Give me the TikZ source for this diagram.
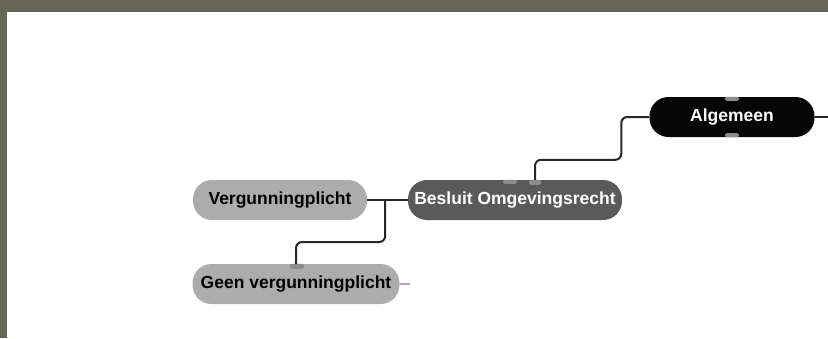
\documentclass[tikz,border=0pt]{standalone}
\usepackage{fontspec}
\setmainfont{Liberation Sans}
\usepackage{tikz}
\usetikzlibrary{positioning}
\definecolor{frame1}{RGB}{102,102,88}
\definecolor{black1}{RGB}{6,6,6}
\definecolor{dark1}{RGB}{90,90,90}
\definecolor{light1}{RGB}{172,172,172}
\definecolor{line1}{RGB}{38,38,38}
\definecolor{knob1}{RGB}{140,140,140}
\definecolor{lilac1}{RGB}{190,160,200}

\tikzset{
  topic/.style={rounded corners=19pt, minimum height=40pt, inner sep=0pt,
    font=\bfseries\fontsize{17.5}{20}\selectfont},
  rootbox/.style={topic, fill=black1, text=white},
  mainbox/.style={topic, fill=dark1, text=white},
  subbox/.style={topic, fill=light1, text=black},
  link/.style={draw=line1, line width=2pt, rounded corners=6pt},
  knob/.style={fill=knob1, rounded corners=2pt}
}

\begin{document}
\begin{tikzpicture}[x=1pt, y=-1pt]
  \useasboundingbox (0,0) rectangle (828,338);
  % frame
  \fill[frame1] (0,0) rectangle (828,338);
  \fill[white] (7,12) rectangle (828,338);

  % nodes
  \node[rootbox, minimum width=165pt] (algemeen) at (732,117) {Algemeen};
  \node[mainbox, minimum width=214pt] (besluit) at (515,200) {Besluit Omgevingsrecht};
  \node[subbox, minimum width=174pt] (verg) at (280,200) {Vergunningplicht};
  \node[subbox, minimum width=207pt] (geen) at (296,284) {Geen vergunningplicht};

  % knobs
  \fill[knob] ([xshift=-7pt]algemeen.north) rectangle ++(14pt,-4pt);
  \fill[knob] ([xshift=-7pt]algemeen.south) rectangle ++(14pt,4pt);
  \fill[knob] ([xshift=-12pt]besluit.north) rectangle ++(14pt,-4pt);
  \fill[knob] ([xshift=14pt]besluit.north) rectangle ++(12pt,-5pt);
  \fill[knob] ([xshift=-6pt]geen.north) rectangle ++(14pt,-5pt);

  % connectors
  \draw[link] ([xshift=20pt]besluit.north) -- ++(0,-20) -| ([xshift=-28pt]algemeen.west) -- (algemeen.west);
  \draw[link] (algemeen.east) -- ++(14,0);
  \draw[link] (verg.east) -- (besluit.west);
  \draw[link] ([xshift=18pt]verg.east) -- ++(0,42) -| (geen.north);
  \draw[lilac1, line width=1.5pt] (geen.east) -- ++(10,0);
\end{tikzpicture}
\end{document}
